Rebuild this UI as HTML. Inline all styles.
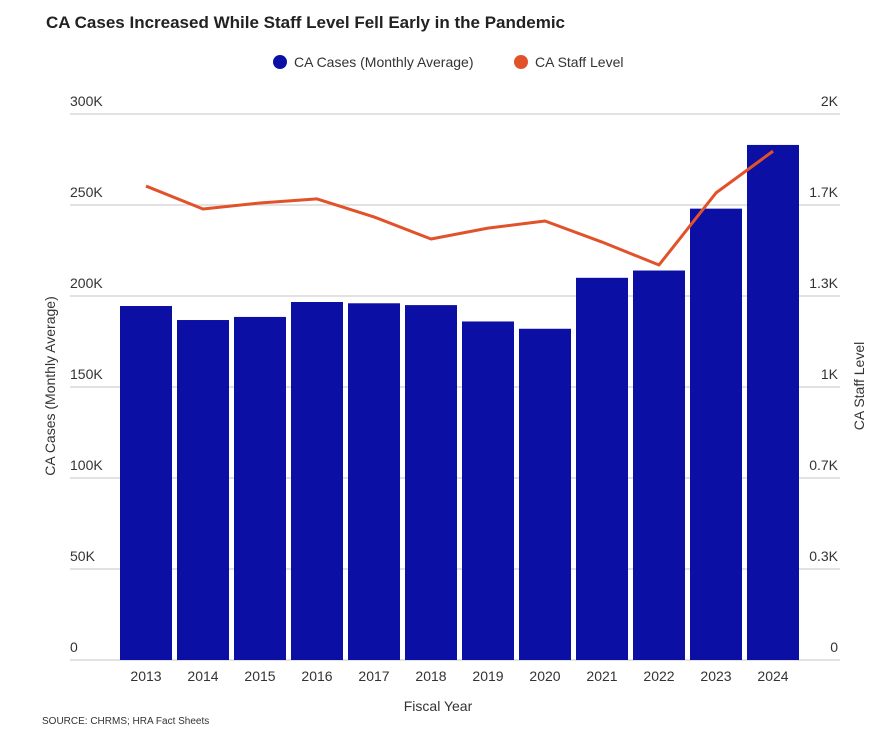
<!DOCTYPE html>
<html><head><meta charset="utf-8"><style>
body{margin:0;background:#fff;font-family:"Liberation Sans",sans-serif;}
svg text{font-family:"Liberation Sans",sans-serif;}
</style></head><body>
<svg width="888" height="746" xmlns="http://www.w3.org/2000/svg">
<text x="46" y="28" font-size="17" font-weight="bold" fill="#222">CA Cases Increased While Staff Level Fell Early in the Pandemic</text>
<g>
<circle cx="280" cy="62" r="7" fill="#0c0fa3"/>
<text x="294" y="67" font-size="14" fill="#333">CA Cases (Monthly Average)</text>
<circle cx="521" cy="62" r="7" fill="#e2522a"/>
<text x="535" y="67" font-size="14" fill="#333">CA Staff Level</text>
</g>
<g id="grid"></g><g id="bars"></g><g id="line"></g><g id="labels"></g>
<text transform="translate(55,386) rotate(-90)" text-anchor="middle" font-size="14" fill="#333">CA Cases (Monthly Average)</text>
<text transform="translate(864,386) rotate(-90)" text-anchor="middle" font-size="14" fill="#333">CA Staff Level</text>
<text x="438" y="711" text-anchor="middle" font-size="14" fill="#333">Fiscal Year</text>
<text x="42" y="724" font-size="10" fill="#333">SOURCE: CHRMS; HRA Fact Sheets</text>
</svg>
<script>
const years=["2013","2014","2015","2016","2017","2018","2019","2020","2021","2022","2023","2024"];
const cases=[194500,186800,188500,196700,196000,195000,186000,182000,210000,214000,248000,283000];
const staff=[1736,1652,1674,1689,1623,1542,1582,1608,1531,1447,1711,1864];
const leftTicks=["0","50K","100K","150K","200K","250K","300K"];
const rightTicks=["0","0.3K","0.7K","1K","1.3K","1.7K","2K"];
const NS="http://www.w3.org/2000/svg";
const y0=660,y1=114,xL=70,xR=840;
const yL=v=>y0-(v/300000)*(y0-y1);
const yR=v=>y0-(v/2000)*(y0-y1);
const step=57,x0=146,bw=52;
const xC=i=>x0+i*step;
function mk(t,a,p){const e=document.createElementNS(NS,t);for(const k in a)e.setAttribute(k,a[k]);p.appendChild(e);return e;}
const g=document.getElementById('grid'),b=document.getElementById('bars'),l=document.getElementById('line'),lb=document.getElementById('labels');
leftTicks.forEach((t,i)=>{
  const y=y0-i*(y0-y1)/6;
  const ln=mk('line',{x1:xL,x2:xR,y1:y,y2:y,stroke:'#d9d9d9','stroke-width':1.5},g);
  
  
  const a=mk('text',{x:xL,y:y-8,'font-size':14,fill:'#333'},lb);a.textContent=t;
  
  
  const c=mk('text',{x:xR-2,y:y-8,'font-size':14,fill:'#333','text-anchor':'end'},lb);c.textContent=rightTicks[i];
  
  
});
years.forEach((yr,i)=>{
  const r=mk('rect',{x:xC(i)-bw/2,y:yL(cases[i]),width:bw,height:y0-yL(cases[i]),fill:'#0c0fa3'},b);
  
  
  const t=mk('text',{x:xC(i),y:681,'font-size':14,fill:'#333','text-anchor':'middle'},lb);t.textContent=yr;
  
  
});
const p=mk('polyline',{points:staff.map((v,i)=>xC(i)+','+yR(v)).join(' '),fill:'none',stroke:'#e2522a','stroke-width':3,'stroke-linejoin':'round'},l);


</script>
</body></html>
